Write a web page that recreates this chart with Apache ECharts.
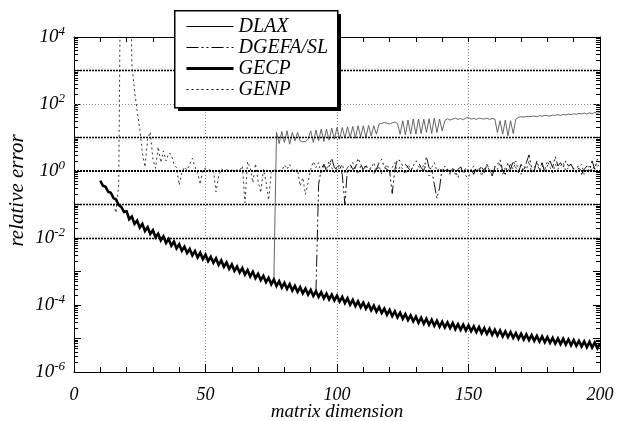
<!DOCTYPE html>
<html>
<head>
<meta charset="utf-8">
<script src="https://cdn.jsdelivr.net/npm/echarts@6/dist/echarts.min.js"></script>
<style>html,body{margin:0;background:#fff}#chart{width:625px;height:421px}</style>
</head>
<body>
<div id="chart"></div>
<script>
// values are log10(relative error), one per matrix dimension
const gecpStart = 10;
const gecpLog = [
  -0.29, -0.44, -0.47, -0.62, -0.65, -0.81, -0.85, -1.02, -1.07, -1.22,
  -1.20, -1.44, -1.36, -1.58, -1.48, -1.69, -1.58, -1.79, -1.68, -1.88,
  -1.77, -1.98, -1.87, -2.07, -1.95, -2.15, -2.03, -2.23, -2.11, -2.31,
  -2.19, -2.38, -2.26, -2.45, -2.33, -2.52, -2.39, -2.58, -2.44, -2.63,
  -2.50, -2.69, -2.56, -2.74, -2.61, -2.80, -2.67, -2.86, -2.73, -2.92,
  -2.79, -2.98, -2.85, -3.03, -2.90, -3.09, -2.96, -3.15, -3.01, -3.20,
  -3.07, -3.26, -3.13, -3.32, -3.19, -3.38, -3.24, -3.43, -3.29, -3.48,
  -3.34, -3.52, -3.38, -3.57, -3.43, -3.61, -3.47, -3.65, -3.51, -3.69,
  -3.55, -3.73, -3.59, -3.76, -3.62, -3.80, -3.66, -3.83, -3.69, -3.86,
  -3.72, -3.90, -3.76, -3.94, -3.80, -3.99, -3.85, -4.03, -3.89, -4.07,
  -3.93, -4.11, -3.97, -4.16, -4.02, -4.20, -4.06, -4.24, -4.11, -4.29,
  -4.15, -4.33, -4.19, -4.37, -4.23, -4.41, -4.27, -4.45, -4.31, -4.49,
  -4.35, -4.53, -4.38, -4.56, -4.41, -4.59, -4.44, -4.62, -4.47, -4.65,
  -4.50, -4.67, -4.52, -4.69, -4.54, -4.72, -4.57, -4.74, -4.59, -4.76,
  -4.61, -4.78, -4.64, -4.81, -4.66, -4.84, -4.69, -4.86, -4.71, -4.89,
  -4.74, -4.91, -4.76, -4.94, -4.79, -4.96, -4.81, -4.98, -4.84, -5.01,
  -4.86, -5.03, -4.88, -5.05, -4.90, -5.07, -4.92, -5.09, -4.94, -5.11,
  -4.96, -5.13, -4.98, -5.15, -5.00, -5.17, -5.01, -5.18, -5.03, -5.20,
  -5.05, -5.22, -5.07, -5.24, -5.09, -5.26, -5.10, -5.27, -5.12, -5.29,
  -5.14
];
const dlaxStart = 76;
const dlaxLog = [
  -3.2, 1.15, 0.82, 1.18,
  0.85, 1.2, 0.8, 1.15, 0.9, 1.15, 0.9, 0.87, 0.88, 0.95,
  1.2, 0.85, 1.22, 0.9, 1.25, 0.88, 1.25, 0.92, 1.28, 0.95,
  1.3, 0.95, 1.3, 0.98, 1.32, 1.0, 1.33, 0.98, 1.35, 1.02,
  1.35, 1.0, 1.36, 1.05, 1.35, 1.1, 1.4, 1.42, 1.45, 1.43,
  1.4, 1.44, 1.46, 1.42, 1.1, 1.5, 1.08, 1.52, 1.1, 1.55,
  1.1, 1.55, 1.12, 1.55, 1.15, 1.56, 1.12, 1.58, 1.15, 1.55,
  1.2, 1.5, 1.56, 1.52, 1.55, 1.58, 1.54, 1.57, 1.53, 1.58,
  1.6, 1.55, 1.57, 1.54, 1.58, 1.56, 1.55, 1.58, 1.54, 1.57,
  1.55, 1.15, 1.5, 1.1, 1.52, 1.05, 1.5, 1.12, 1.55, 1.6,
  1.62, 1.61, 1.63, 1.62, 1.63, 1.64, 1.62, 1.65, 1.64, 1.66,
  1.65, 1.64, 1.67, 1.66, 1.68, 1.66, 1.69, 1.67, 1.7, 1.68,
  1.71, 1.69, 1.72, 1.7, 1.73, 1.7, 1.74, 1.71, 1.75, 1.72,
  1.76
];
const dgefaStart = 92;
const dgefaLog = [
  -3.6, -0.4, 0.05, 0.2, 0.0, 0.15, 0.38, 0.1,
  0.05, 0.2, -0.1, -1.0, 0.1, 0.2, 0.05, 0.1, 0.38, 0.2,
  0.05, 0.15, 0.05, 0.1, -0.1, 0.05, 0.25, 0.35, 0.1, 0.05,
  0.0, -0.67, 0.05, 0.35, 0.3, 0.15, 0.2, 0.1, 0.0, 0.15,
  0.3, 0.25, 0.1, 0.0, 0.43, 0.1, 0.05, -0.4, -0.82, -0.5,
  0.1, 0.0, 0.05, -0.05, 0.08, -0.1, 0.05, 0.12, -0.05, 0.1,
  0.0, 0.05, -0.1, 0.1, 0.0, 0.15, -0.05, 0.2, 0.05, -0.15,
  0.1, 0.2, 0.33, 0.0, -0.1, 0.25, 0.05, 0.3, 0.1, -0.05,
  0.2, 0.0, 0.25, 0.48, 0.1, 0.0, 0.3, 0.05, 0.25, -0.05,
  0.15, 0.3, 0.1, 0.43, 0.15, 0.25, 0.1, 0.3, 0.15, 0.2,
  0.05, 0.1, 0.15, -0.1, 0.05, 0.15, 0.0, 0.3, 0.05, 0.35,
  0.25
];
const genpStart = 15;
const genpLog = [
  -1.0, -1.25, -0.4, 9, 9,
  9, 9, 3.2, 2.4, 1.8, 1.25, 0.55, 0.12, 0.95, 1.17,
  0.35, 0.08, 0.72, 0.25, 0.6, 0.3, 0.53, 0.5, 0.2, 0.1,
  -0.42, -0.05, 0.12, 0.02, 0.2, 0.38, 0.12, -0.05, -0.4, 0.05,
  0.08, 0.02, 0.04, 0.0, -0.62, -0.15, 0.06, 0.02, 0.04, 0.01,
  0.03, 0.0, 0.03, 0.02, 0.15, -0.95, 0.28, 0.1, -0.35, 0.22,
  -0.3, -0.65, 0.05, -0.3, -0.87, -0.05, 0.03, 0.01, 0.02, 0.0,
  0.18, 0.05, 0.2, 0.02, 0.0, 0.05, -0.45, -0.2, -0.7, -0.35,
  0.05, 0.28, 0.1, 0.25, -0.1, 0.2, 0.05, 0.3, 0.1, -0.05,
  0.15, 0.05, 0.2, -0.05, 0.1, 0.0, 0.25, 0.05, -0.1, 0.15,
  0.02, 0.2, -0.05, 0.1, 0.25, 0.0, 0.15, -0.1, 0.05, 0.2,
  0.0, 0.1, 0.25, -0.05, 0.15, 0.05, -0.1, 0.2, 0.05, 0.1,
  -0.05, 0.15, 0.0, 0.2, 0.05, -0.15, 0.1, 0.25, 0.0, 0.1,
  -0.05, 0.15, 0.05, -0.1, 0.1, 0.0, -0.2, 0.1, 0.05, -0.15,
  -0.2, 0.05, 0.15, -0.05, 0.1, -0.15, 0.05, 0.2, 0.0, -0.1,
  0.15, 0.05, 0.25, -0.1, 0.1, -0.05, 0.2, 0.05, 0.3, 0.0,
  -0.1, 0.15, 0.05, 0.3, -0.05, 0.1, 0.25, 0.0, 0.15, 0.05,
  0.3, 0.1, -0.05, 0.2, 0.05, 0.15, 0.25, 0.0, 0.1, 0.2,
  0.05, -0.05, 0.1, 0.2, -0.1, 0.05, 0.15, 0.0, 0.2, 0.1,
  0.3
];
const seriesNames = ['DLAX', 'DGEFA/SL', 'GECP', 'GENP'];
const legendWidths = [1, 1, 3, 1];
const xTicks = [0, 50, 100, 150, 200];
const yDecades = [1e-6, 1e-5, 1e-4, 1e-3, 1e-2, 1e-1, 1, 1e1, 1e2, 1e3, 1e4];
const yLabelDecades = [1e-6, 1e-4, 1e-2, 1, 1e2, 1e4];
const darkGrid = [1e-3, 1e-2, 1e-1, 1, 1e1, 1e3];
const lightGrid = [1e-5, 1e-4, 1e2];

const yMinor = [];
yDecades.slice(0, -1).forEach(d => { for (let k = 2; k <= 9; k++) yMinor.push(+(d * k).toPrecision(3)); });
const toPoints = (start, logs) => logs.map((e, i) => [start + i, Math.pow(10, e)]);

const serif = 'Liberation Serif';
const txt = { fontFamily: serif, fontStyle: 'italic', fontSize: 18, color: '#000' };
const blackLine = { color: '#000', width: 1 };

const logAxis = (position, extra) => Object.assign({
  type: 'log', logBase: 10, position, min: 1e-6, max: 1e4,
  axisLine: { show: false }, axisLabel: { show: false }, splitLine: { show: false }, axisTick: { show: false }
}, extra);

const chart = echarts.init(document.getElementById('chart'));
chart.setOption({
  animation: false,
  backgroundColor: '#fff',
  grid: { left: 74, right: 25, top: 37, bottom: 49, outerBoundsMode: 'none' },
  // legend frame with its offset shadow
  graphic: [
    { type: 'rect', left: 178, top: 14, z: 10, shape: { width: 163, height: 97 }, style: { fill: '#000' } },
    { type: 'rect', left: 174, top: 10, z: 11, shape: { width: 163, height: 97 }, style: { fill: '#fff', stroke: '#000', lineWidth: 1.5 } }
  ],
  legend: {
    orient: 'vertical', left: 174, top: 10, padding: [6, 9, 8, 11], itemGap: 0, z: 12,
    itemWidth: 47, itemHeight: 14,
    data: seriesNames.map((name, i) => ({ name, lineStyle: { color: '#000', width: legendWidths[i] } })),
    itemStyle: { opacity: 0 },
    textStyle: Object.assign({}, txt, { fontSize: 20, lineHeight: 21 })
  },
  xAxis: [
    {
      type: 'value', position: 'bottom', min: 0, max: 200, interval: 50,
      axisLine: { lineStyle: blackLine },
      axisTick: { inside: true, length: 8, lineStyle: blackLine },
      minorTick: { show: true, splitNumber: 5, length: 5, lineStyle: blackLine },
      splitLine: { show: true, lineStyle: { color: '#888', width: 1, type: [1, 2] } },
      axisLabel: Object.assign({}, txt, { margin: 14, customValues: xTicks }),
      name: 'matrix dimension', nameLocation: 'middle', nameGap: 30, nameMoveOverlap: false,
      nameTextStyle: Object.assign({}, txt, { fontSize: 19 })
    },
    {
      type: 'value', position: 'top', min: 0, max: 200, interval: 10,
      axisLine: { lineStyle: blackLine },
      axisTick: { inside: true, length: 5, lineStyle: blackLine },
      axisLabel: { show: false }, splitLine: { show: false }
    }
  ],
  yAxis: [
    logAxis('left', {
      axisLine: { show: true, lineStyle: blackLine },
      axisTick: { show: true, inside: true, length: 7, customValues: yDecades, lineStyle: blackLine },
      axisLabel: {
        show: true, margin: 9, customValues: yLabelDecades,
        formatter: v => '{b|10}{s|' + Math.round(Math.log10(v)) + '}',
        rich: {
          b: { fontFamily: serif, fontStyle: 'italic', fontSize: 19, color: '#000' },
          s: { fontFamily: serif, fontStyle: 'italic', fontSize: 13, color: '#000', padding: [0, 0, 10, 0] }
        }
      },
      name: 'relative error', nameLocation: 'middle', nameGap: 46, nameMoveOverlap: false,
      nameTextStyle: Object.assign({}, txt, { fontSize: 21, padding: [0, 0, 0, 28] })
    }),
    logAxis('left', { axisTick: { show: true, inside: true, length: 4, customValues: yMinor, lineStyle: blackLine } }),
    logAxis('right', {
      axisLine: { show: true, lineStyle: blackLine },
      axisTick: { show: true, inside: true, length: 7, customValues: yDecades, lineStyle: blackLine }
    }),
    logAxis('right', { axisTick: { show: true, inside: true, length: 4, customValues: yMinor, lineStyle: blackLine } })
  ],
  series: [
    {
      name: 'gridlines', type: 'line', data: [], z: 1, silent: true,
      markLine: {
        silent: true, symbol: 'none', label: { show: false }, animation: false,
        data: lightGrid.map(v => ({ yAxis: v, lineStyle: { color: '#888', width: 1, type: [1, 2] } }))
          .concat(darkGrid.map(v => ({ yAxis: v, lineStyle: { color: '#000', width: v === 1 ? 2 : 1.4, type: [2, 1] } })))
      }
    },
    {
      name: 'DLAX', type: 'line', symbol: 'none', showSymbol: false, z: 3,
      lineStyle: { color: '#555', width: 0.9 }, itemStyle: { color: '#555' },
      data: toPoints(dlaxStart, dlaxLog)
    },
    {
      name: 'DGEFA/SL', type: 'line', symbol: 'none', showSymbol: false, z: 4,
      lineStyle: { color: '#111', width: 1, type: [12, 3, 2, 3, 2, 3] }, itemStyle: { color: '#111' },
      data: toPoints(dgefaStart, dgefaLog)
    },
    {
      name: 'GECP', type: 'line', symbol: 'none', showSymbol: false, z: 5,
      lineStyle: { color: '#000', width: 2.6, join: 'miter' }, itemStyle: { color: '#000' },
      data: toPoints(gecpStart, gecpLog)
    },
    {
      name: 'GENP', type: 'line', symbol: 'none', showSymbol: false, z: 2,
      lineStyle: { color: '#333', width: 1, type: [2, 3] }, itemStyle: { color: '#333' },
      data: toPoints(genpStart, genpLog)
    }
  ]
});
</script>
</body>
</html>
